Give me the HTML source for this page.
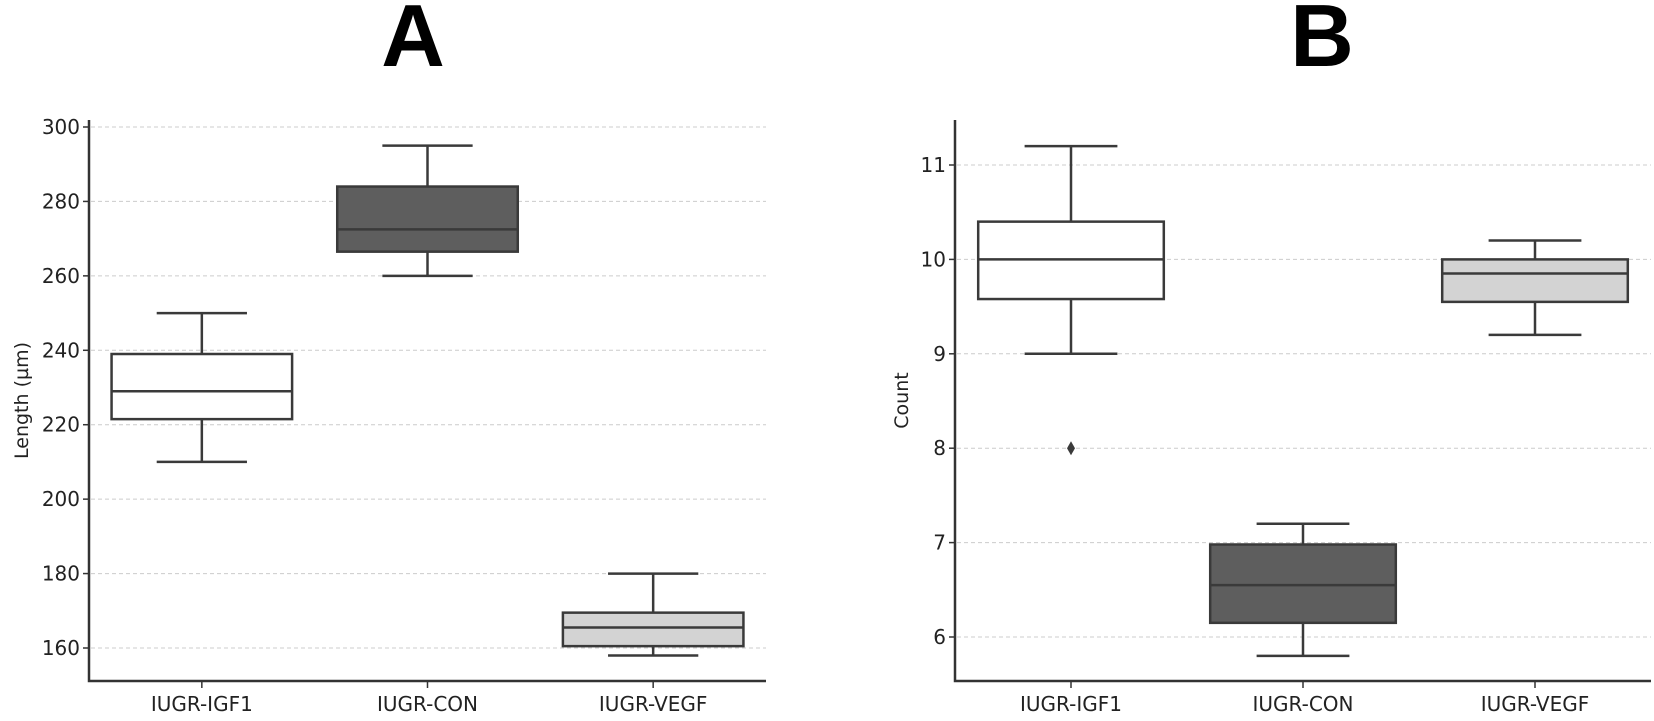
<!DOCTYPE html>
<html><head><meta charset="utf-8"><style>
body{margin:0;background:#fff;}
svg text{font-family:"DejaVu Sans","Liberation Sans",sans-serif;fill:#222;}
</style></head><body>
<svg id="chart" width="1654" height="716" xmlns="http://www.w3.org/2000/svg">
<text x="413" y="66" font-size="88" font-weight="bold" text-anchor="middle" style="font-family:'Liberation Sans',sans-serif;fill:#000">A</text>
<text x="1322" y="66" font-size="88" font-weight="bold" text-anchor="middle" style="font-family:'Liberation Sans',sans-serif;fill:#000">B</text>
<g id="pa"></g>
<g id="pb"></g>
</svg>
<script>
const categories = ["IUGR-IGF1","IUGR-CON","IUGR-VEGF"];
const fills = ["#ffffff","#5e5e5e","#d3d3d3"];
// Panel A: [min, q1, median, q3, max]
const lengthStats = [[210,221.5,229,239,250],[260,266.5,272.5,284,295],[158,160.5,165.5,169.5,180]];
const lengthTicks = [160,180,200,220,240,260,280,300];
// Panel B
const countStats = [[9.0,9.58,10.0,10.4,11.2],[5.8,6.15,6.55,6.98,7.2],[9.2,9.55,9.85,10.0,10.2]];
const countOutliers = [[8],[],[]];
const countTicks = [6,7,8,9,10,11];

const NS="http://www.w3.org/2000/svg";
function mk(parent,tag,attrs){const e=document.createElementNS(NS,tag);for(const k in attrs)e.setAttribute(k,attrs[k]);parent.appendChild(e);return e;}

function panel(g,cfg){
  const {x0,x1,y0,y1,ticks,stats,outliers,ylabel,ylabelX}=cfg;
  const tickTop=ticks[ticks.length-1], tickBot=ticks[0];
  const yScale=v=>cfg.yT+(tickTop-v)*(cfg.yB-cfg.yT)/(tickTop-tickBot);
  const band=(x1-x0)/categories.length;
  const xScale=i=>x0+band*(i+0.5);
  ticks.forEach(t=>{
    const y=yScale(t);
    const gl=mk(g,'line',{x1:x0+2,x2:x1,y1:y,y2:y,stroke:'#cccccc','stroke-width':1,'stroke-dasharray':'4,3'});
    
    
    mk(g,'line',{x1:x0-6,x2:x0,y1:y,y2:y,stroke:'#333','stroke-width':1.5});
    const tl=mk(g,'text',{x:x0-9,y:y+7,'font-size':20,'text-anchor':'end'});
    tl.textContent=t;
    
    
  });
  const ax=mk(g,'path',{d:`M${x0},${y0} V${y1} H${x1}`,fill:'none',stroke:'#333','stroke-width':2.5});
  
  
  const yl=mk(g,'text',{x:ylabelX,y:(y0+y1)/2,'font-size':19,'text-anchor':'middle',transform:`rotate(-90 ${ylabelX} ${(y0+y1)/2})`});
  yl.textContent=ylabel;
  
  
  categories.forEach((c,i)=>{
    const cx=xScale(i), w=band*0.8, s=stats[i];
    mk(g,'line',{x1:cx,x2:cx,y1:y1,y2:y1+7,stroke:'#333','stroke-width':1.5});
    const xl=mk(g,'text',{x:cx,y:y1+30,'font-size':20,'text-anchor':'middle'});
    xl.textContent=c;
    
    
    const bg=mk(g,'g',{stroke:'#3a3a3a','stroke-width':2.5});
    
    
    mk(bg,'line',{x1:cx,x2:cx,y1:yScale(s[0]),y2:yScale(s[1])});
    mk(bg,'line',{x1:cx,x2:cx,y1:yScale(s[3]),y2:yScale(s[4])});
    mk(bg,'line',{x1:cx-w/4,x2:cx+w/4,y1:yScale(s[0]),y2:yScale(s[0])});
    mk(bg,'line',{x1:cx-w/4,x2:cx+w/4,y1:yScale(s[4]),y2:yScale(s[4])});
    mk(bg,'rect',{x:cx-w/2,y:yScale(s[3]),width:w,height:yScale(s[1])-yScale(s[3]),fill:fills[i]});
    mk(bg,'line',{x1:cx-w/2,x2:cx+w/2,y1:yScale(s[2]),y2:yScale(s[2])});
    (outliers?outliers[i]:[]).forEach(o=>{
      const y=yScale(o);
      const p=mk(g,'path',{d:`M${cx},${y-7} L${cx+4},${y} L${cx},${y+7} L${cx-4},${y} Z`,fill:'#3a3a3a'});
      
      
    });
  });
}
panel(document.getElementById('pa'),{x0:89,x1:766,y0:120,y1:681,yT:127,yB:648,ticks:lengthTicks,stats:lengthStats,outliers:null,ylabel:'Length (µm)',ylabelX:28});
panel(document.getElementById('pb'),{x0:955,x1:1651,y0:120,y1:681,yT:165,yB:637,ticks:countTicks,stats:countStats,outliers:countOutliers,ylabel:'Count',ylabelX:908});
</script>
</body></html>
